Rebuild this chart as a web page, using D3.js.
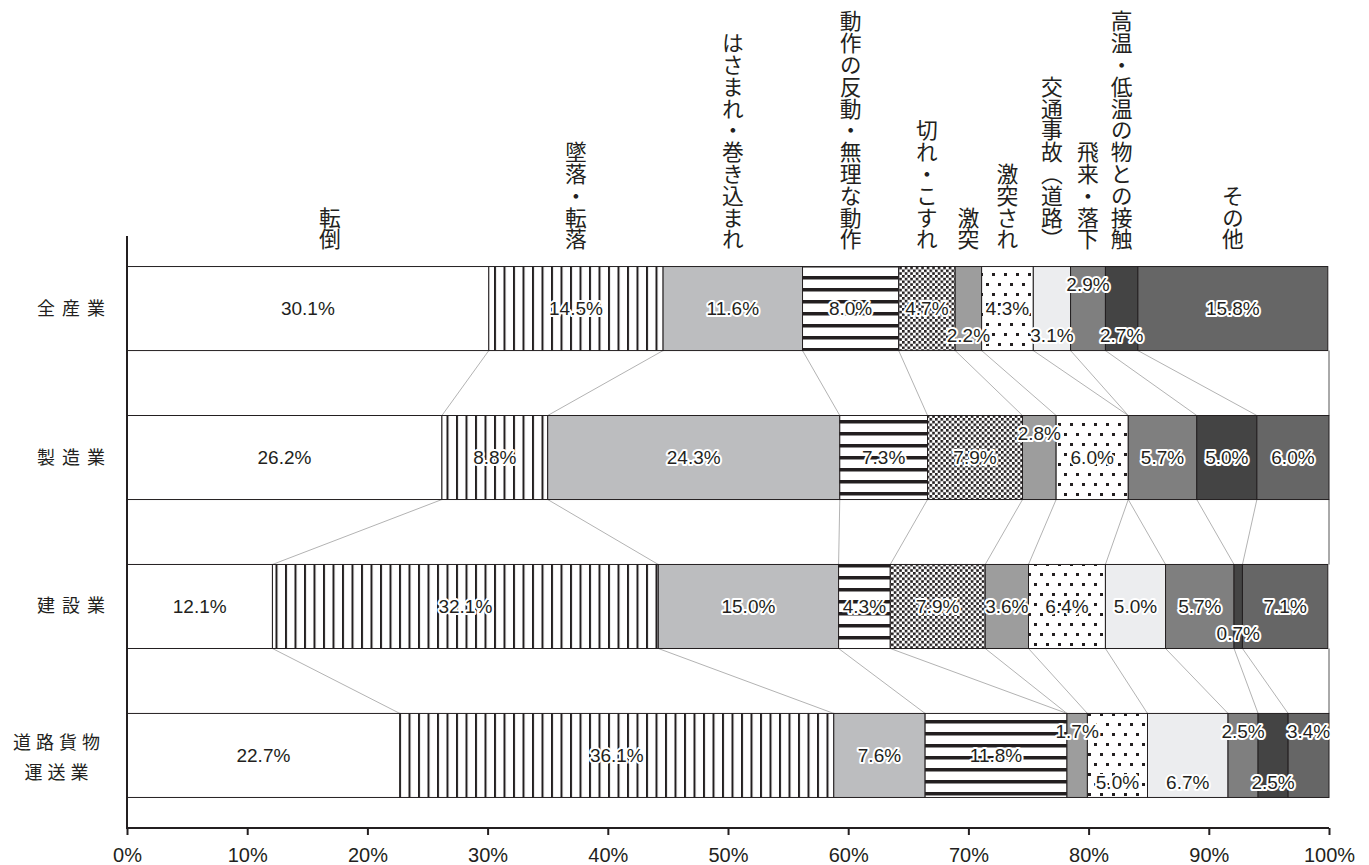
<!DOCTYPE html>
<html>
<head>
<meta charset="utf-8">
<script src="https://cdn.jsdelivr.net/npm/d3@7"></script>
<style>
	body { margin: 0; background: #fff; }
	svg { display: block; }
	.num { font-family: "Liberation Sans", Arial, sans-serif; font-size: 19px; fill: #231f20; }
	.halo { paint-order: stroke; stroke: #fff; stroke-width: 4px; stroke-linejoin: round; }
	.jp { font-family: "Noto Sans CJK JP", sans-serif; fill: #231f20; }
</style>
</head>
<body>
<div id="chart"></div>
<script>
//categories and values
var causes = ["転倒", "墜落・転落", "はさまれ・巻き込まれ", "動作の反動・無理な動作", "切れ・こすれ", "激突", "激突され", "交通事故（道路）", "飛来・落下", "高温・低温の物との接触", "その他"];
var industries = ["全産業", "製造業", "建設業", "道路貨物運送業"];
var allIndustries = [30.1, 14.5, 11.6, 8.0, 4.7, 2.2, 4.3, 3.1, 2.9, 2.7, 15.8];
var manufacturing = [26.2, 8.8, 24.3, 7.3, 7.9, 2.8, 6.0, 0, 5.7, 5.0, 6.0];
var construction = [12.1, 32.1, 15.0, 4.3, 7.9, 3.6, 6.4, 5.0, 5.7, 0.7, 7.1];
var roadFreight = [22.7, 36.1, 7.6, 11.8, 0, 1.7, 5.0, 6.7, 2.5, 2.5, 3.4];
var xTicks = [0, 10, 20, 30, 40, 50, 60, 70, 80, 90, 100];

var seriesByIndustry = [allIndustries, manufacturing, construction, roadFreight];

//small segments get their label pushed above (-1) or below (+1) the bar centre
var labelShift = {
	"全産業": {5: 1, 7: 1, 8: -1, 9: 1},
	"製造業": {5: -1},
	"建設業": {9: 1},
	"道路貨物運送業": {5: -1, 6: 1, 7: 1, 8: -1, 9: 1, 10: -1}
};
//the 転倒 heading sits a bit right of its segment centre
var headingNudge = {0: 22};
var fills = ["#fff", "url(#vstripe)", "#bcbdbf", "url(#hstripe)", "url(#dense)", "#9d9d9d", "url(#sparse)", "#ecedef", "#7f7f7f", "#444", "#666"];

var W = 1369, H = 865;
var svg = d3.select("#chart").append("svg").attr("width", W).attr("height", H);

//patterns
var defs = svg.append("defs");
var p = defs.append("pattern").attr("id", "vstripe").attr("patternUnits", "userSpaceOnUse").attr("width", 9.5).attr("height", 10);
p.append("rect").attr("width", 9.5).attr("height", 10).attr("fill", "#fff");
p.append("rect").attr("x", 0).attr("width", 2).attr("height", 10).attr("fill", "#231f20");

p = defs.append("pattern").attr("id", "hstripe").attr("patternUnits", "userSpaceOnUse").attr("width", 10).attr("height", 12);
p.append("rect").attr("width", 10).attr("height", 12).attr("fill", "#fff");
p.append("rect").attr("y", 0).attr("width", 10).attr("height", 3.5).attr("fill", "#231f20");

p = defs.append("pattern").attr("id", "dense").attr("patternUnits", "userSpaceOnUse").attr("width", 5.5).attr("height", 5.5);
p.append("rect").attr("width", 5.5).attr("height", 5.5).attr("fill", "#fff");
p.append("rect").attr("x", 0).attr("y", 0).attr("width", 2.6).attr("height", 2.6).attr("fill", "#231f20");
p.append("rect").attr("x", 2.75).attr("y", 2.75).attr("width", 2.6).attr("height", 2.6).attr("fill", "#231f20");

p = defs.append("pattern").attr("id", "sparse").attr("patternUnits", "userSpaceOnUse").attr("width", 12).attr("height", 20);
p.append("rect").attr("width", 12).attr("height", 20).attr("fill", "#fff");
p.append("rect").attr("x", 2).attr("y", 3).attr("width", 3).attr("height", 3).attr("fill", "#231f20");
p.append("rect").attr("x", 8).attr("y", 13).attr("width", 3).attr("height", 3).attr("fill", "#231f20");

var x = d3.scaleLinear().domain([0, 100]).range([127, 1329]);
var y = d3.scaleBand().domain(industries).range([236, 828]).paddingInner(0.436).paddingOuter(0.205);
var bh = y.bandwidth();

//stack data
var stacked = industries.map(function(ind, i) {
	var acc = 0;
	var segs = seriesByIndustry[i].map(function(v, j) {
		var s = {industry: ind, cause: j, value: v, x0: acc, x1: acc + v};
		acc += v;
		return s;
	});
	return {industry: ind, segs: segs};
});

//connector lines between bars
var g = svg.append("g");
for (var i = 0; i < stacked.length - 1; i++) {
	var upper = stacked[i], lower = stacked[i + 1];
	for (var j = 0; j <= causes.length; j++) {
		var a = j == 0 ? 0 : upper.segs[j - 1].x1;
		var b = j == 0 ? 0 : lower.segs[j - 1].x1;
		if (j == causes.length) { a = 100; b = 100; }
		g.append("line")
			.attr("x1", x(a)).attr("y1", y(upper.industry) + bh)
			.attr("x2", x(b)).attr("y2", y(lower.industry))
			.attr("stroke", j == causes.length ? "#555" : "#b3b3b3")
			.attr("stroke-width", 1);
	}
}

//bars
var rows = svg.append("g").selectAll("g.row")
	.data(stacked).enter().append("g").attr("class", "row");

rows.selectAll("rect")
	.data(function(d) { return d.segs.filter(function(s) { return s.value > 0; }); })
	.enter().append("rect")
	.attr("x", function(d) { return x(d.x0); })
	.attr("y", function(d) { return y(d.industry); })
	.attr("width", function(d) { return x(d.x1) - x(d.x0); })
	.attr("height", bh)
	.attr("fill", function(d) { return fills[d.cause]; })
	.attr("stroke", "#231f20")
	.attr("stroke-width", 1);

//value labels
rows.selectAll("text")
	.data(function(d) { return d.segs.filter(function(s) { return s.value > 0; }); })
	.enter().append("text")
	.attr("class", "num halo")
	.attr("text-anchor", "middle")
	.attr("dominant-baseline", "central")
	.attr("x", function(d) { return x((d.x0 + d.x1) / 2); })
	.attr("y", function(d) {
		var shift = (labelShift[d.industry] || {})[d.cause] || 0;
		var off = shift < 0 ? -24 : (shift > 0 ? 27 : 0);
		return y(d.industry) + bh / 2 + off;
	})
	.text(function(d) { return d.value.toFixed(1) + "%"; });

//category labels on the left
industries.forEach(function(ind) {
	var cy = y(ind) + bh / 2;
	if (ind == "道路貨物運送業") {
		var t = svg.append("text").attr("class", "jp").attr("text-anchor", "middle")
			.style("font-size", "18px").style("letter-spacing", "5px");
		t.append("tspan").attr("x", 59).attr("y", cy - 6).text("道路貨物");
		t.append("tspan").attr("x", 59).attr("y", cy + 24).text("運送業");
	} else {
		svg.append("text").attr("class", "jp").attr("text-anchor", "end")
			.attr("x", 112).attr("y", cy + 6)
			.style("font-size", "18px").style("letter-spacing", "7px")
			.text(ind);
	}
});

//vertical cause labels above the first bar
svg.append("g").selectAll("text")
	.data(stacked[0].segs).enter().append("text")
	.attr("class", "jp")
	.attr("writing-mode", "vertical-rl")
	.attr("text-anchor", "end")
	.style("font-size", "21.8px")
	.attr("x", function(d) { return x((d.x0 + d.x1) / 2) + (headingNudge[d.cause] || 0); })
	.attr("y", 250)
	.text(function(d) { return causes[d.cause]; });

//axes
var xAxis = d3.axisBottom(x).tickValues(xTicks).tickSize(7).tickFormat(function(d) { return d + "%"; });
var ax = svg.append("g").attr("transform", "translate(0,828)").call(xAxis);
ax.select(".domain").attr("stroke", "#231f20").attr("stroke-width", 2).attr("d", "M" + x(0) + ",0H" + x(100));
ax.selectAll(".tick line").attr("stroke", "#231f20").attr("stroke-width", 2);
ax.selectAll(".tick text").attr("class", "num").attr("y", 20).attr("dy", "0.71em").style("font-size", "20px");

svg.append("line")
	.attr("x1", x(0)).attr("x2", x(0))
	.attr("y1", 236).attr("y2", 829)
	.attr("stroke", "#231f20").attr("stroke-width", 2);
</script>
</body>
</html>
